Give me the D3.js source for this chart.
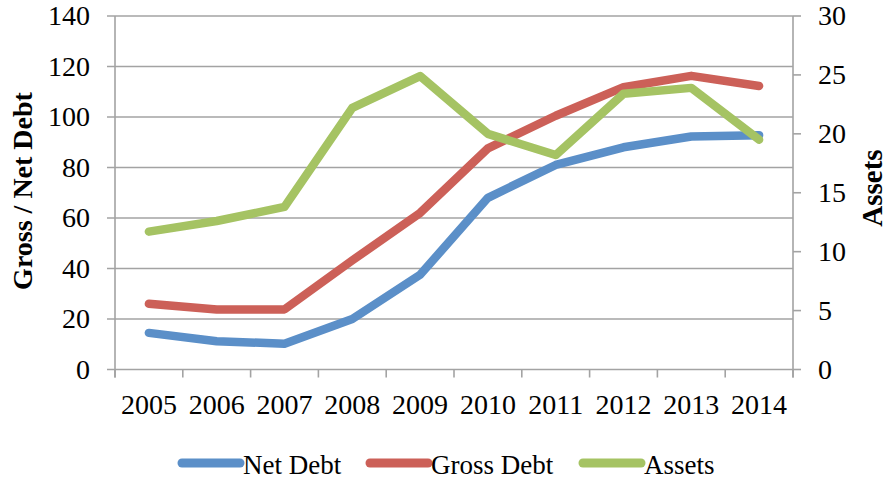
<!DOCTYPE html>
<meta charset="utf-8">
<style>
  body { margin: 0; background: #fff; }
  text { font-family: "Liberation Serif", "Times New Roman", serif; fill: #000; }
</style>
<svg id="chart" width="887" height="482"></svg>
<script src="https://cdn.jsdelivr.net/npm/d3@7"></script>
<script>
var years = ["2005","2006","2007","2008","2009","2010","2011","2012","2013","2014"];
var netDebt   = [14.5, 11.2, 10.2, 20, 37.5, 68, 81, 88, 92.3, 92.8];
var grossDebt = [26, 23.8, 23.8, 43.2, 62, 87.6, 100.5, 111.8, 116.3, 112.3];
var assets    = [11.7, 12.6, 13.8, 22.2, 24.9, 20, 18.2, 23.4, 23.9, 19.5];
var leftTicks  = [0, 20, 40, 60, 80, 100, 120, 140];
var rightTicks = [0, 5, 10, 15, 20, 25, 30];

var colors = { net: "#5b8fc8", gross: "#cc6058", assets: "#a5c363" };

var svg = d3.select("#chart");
var plotL = 115, plotR = 793, plotT = 16, plotB = 369.5;
var gridColor = "#a3a3a3";

var x = d3.scaleBand().domain(years).range([plotL, plotR]);
var yL = d3.scaleLinear().domain([0, 140]).range([plotB, plotT]);
var yR = d3.scaleLinear().domain([0, 30]).range([plotB, plotT]);

// gridlines (with left tick stubs)
svg.append("g").selectAll("line").data(leftTicks).join("line")
  .attr("x1", plotL - 8).attr("x2", plotR)
  .attr("y1", d => yL(d)).attr("y2", d => yL(d))
  .attr("stroke", gridColor).attr("stroke-width", 1.6);

// axis lines
svg.append("line").attr("x1", plotL).attr("x2", plotL).attr("y1", plotT).attr("y2", plotB + 8)
  .attr("stroke", gridColor).attr("stroke-width", 1.6);
svg.append("line").attr("x1", plotR).attr("x2", plotR).attr("y1", plotT).attr("y2", plotB + 8)
  .attr("stroke", gridColor).attr("stroke-width", 1.6);

// right ticks
svg.append("g").selectAll("line").data(rightTicks).join("line")
  .attr("x1", plotR).attr("x2", plotR + 8)
  .attr("y1", d => yR(d)).attr("y2", d => yR(d))
  .attr("stroke", gridColor).attr("stroke-width", 1.6);

// x ticks at band edges
var edges = years.map(d => x(d)).concat([plotR]);
svg.append("g").selectAll("line").data(edges).join("line")
  .attr("x1", d => d).attr("x2", d => d)
  .attr("y1", plotB).attr("y2", plotB + 8)
  .attr("stroke", gridColor).attr("stroke-width", 1.6);

// tick labels
svg.append("g").selectAll("text").data(leftTicks).join("text")
  .attr("x", 90).attr("y", d => yL(d) + 9)
  .attr("text-anchor", "end").style("font-size", "28px")
  .text(d => d);
svg.append("g").selectAll("text").data(rightTicks).join("text")
  .attr("x", 818).attr("y", d => yR(d) + 9)
  .attr("text-anchor", "start").style("font-size", "28px")
  .text(d => d);
svg.append("g").selectAll("text").data(years).join("text")
  .attr("x", d => x(d) + x.bandwidth() / 2).attr("y", 414)
  .attr("text-anchor", "middle").style("font-size", "28px")
  .text(d => d);

// axis titles
svg.append("text")
  .attr("transform", "translate(32,191) rotate(-90)")
  .attr("text-anchor", "middle").style("font-size", "28px").style("font-weight", "bold")
  .text("Gross / Net Debt");
svg.append("text")
  .attr("transform", "translate(882,188) rotate(-90)")
  .attr("text-anchor", "middle").style("font-size", "29px").style("font-weight", "bold")
  .text("Assets");

// series
var cx = d => x(d) + x.bandwidth() / 2;
var series = [
  { name: "Net Debt", vals: netDebt, y: yL, color: colors.net },
  { name: "Gross Debt", vals: grossDebt, y: yL, color: colors.gross },
  { name: "Assets", vals: assets, y: yR, color: colors.assets }
];
series.forEach(function(s) {
  var line = d3.line().x((d, i) => cx(years[i])).y(d => s.y(d));
  svg.append("path").datum(s.vals)
    .attr("d", line).attr("fill", "none")
    .attr("stroke", s.color).attr("stroke-width", 8.5)
    .attr("stroke-linejoin", "round").attr("stroke-linecap", "round");
});

// legend
var legendX = [182, 370, 583];
var lg = svg.append("g").selectAll("g").data(series).join("g")
  .attr("transform", (d, i) => "translate(" + legendX[i] + ",463)");
lg.append("line").attr("x1", 0).attr("x2", 58).attr("y1", 0).attr("y2", 0)
  .attr("stroke", d => d.color).attr("stroke-width", 9).attr("stroke-linecap", "round");
lg.append("text").attr("x", 61).attr("y", 11).style("font-size", "27px")
  .text(d => d.name);
</script>
